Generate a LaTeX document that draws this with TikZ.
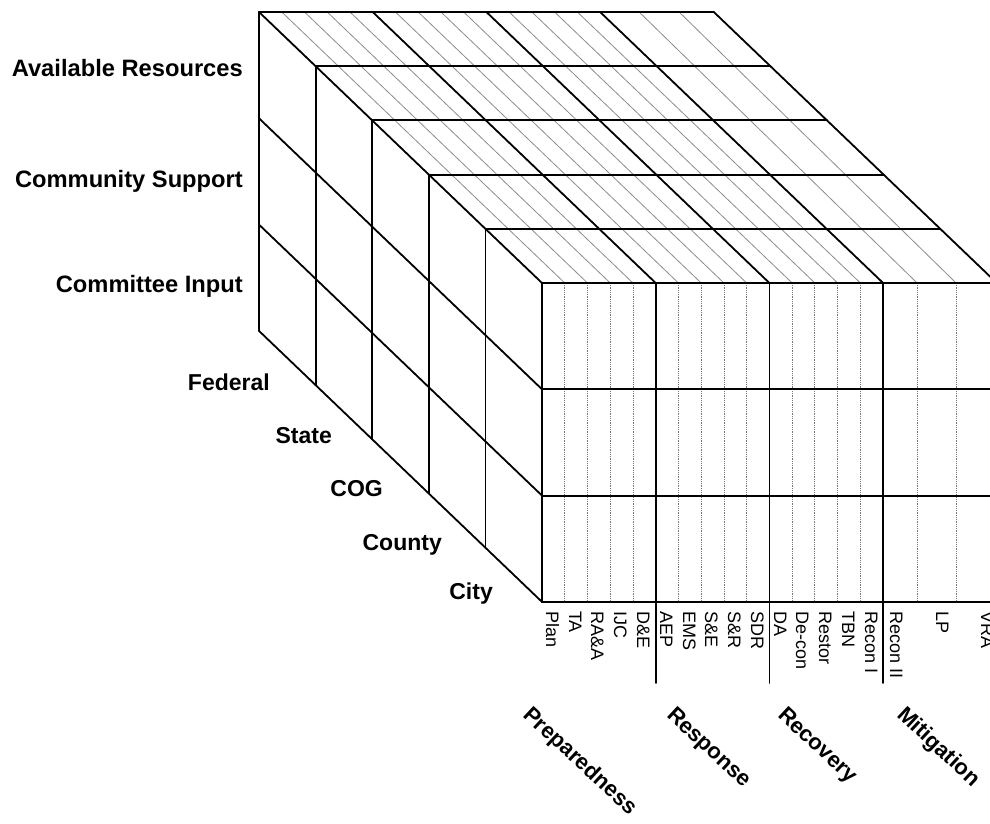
\documentclass[tikz,border=0pt]{standalone}
\usepackage{fontspec}
\setmainfont{Liberation Sans}
\usepackage{tikz}
\usetikzlibrary{positioning}
\definecolor{gridColor}{RGB}{0, 0, 0}
\definecolor{hatchColor}{RGB}{140, 140, 140}
\definecolor{subColor}{RGB}{120, 120, 120}
\newcommand{\sliceDx}{56.6}
\newcommand{\sliceDy}{54.2}
\newcommand{\phaseW}{113.7}
\newcommand{\tierH}{106.3}
\tikzset{
    cube_line/.style={
        line width=1.8pt,
        draw=gridColor,
        line cap=round
    },
    hatch_line/.style={
        line width=0.8pt,
        draw=hatchColor
    },
    sub_line/.style={
        line width=0.8pt,
        draw=subColor,
        densely dotted
    },
    row_label/.style={
        font=\fontsize{23.7}{28}\selectfont\bfseries,
        anchor=base east,
        inner sep=0pt
    },
    level_label/.style={
        row_label,
        font=\fontsize{23}{28}\selectfont\bfseries
    },
    phase_label/.style={
        font=\fontsize{22.1}{26}\selectfont\bfseries,
        rotate=-43,
        anchor=base west,
        inner sep=0pt
    },
    task_label/.style={
        font=\fontsize{18}{22}\selectfont,
        rotate=-90,
        anchor=base west,
        inner sep=0pt
    }
}

\begin{document}
\begin{tikzpicture}[x=1pt, y=-1pt]
    \useasboundingbox (0,0) rectangle (990,824);
    \begin{scope}
        \clip (0,0) rectangle (990,824);
        % top face: thin task lines
        \foreach \g in {0,1,2}
            \foreach \k in {1,...,4}
                \draw[hatch_line] ({259+\g*\phaseW+\k*22.74},12) -- ++(283,271);
        \foreach \ob/\of in {39/34, 79/73}
            \draw[hatch_line] ({259+3*\phaseW+\ob},12) -- ({542+3*\phaseW+\of},283);
        % front face: dotted task lines
        \foreach \g in {0,1,2}
            \foreach \k in {1,...,4}
                \draw[sub_line] ({542+\g*\phaseW+\k*22.74},283) -- ++(0,318.9);
        \foreach \of in {34,73}
            \draw[sub_line] ({542+3*\phaseW+\of},283) -- ++(0,318.9);

        % top face
        \foreach \s in {0,...,5}
            \draw[cube_line] ({259+\s*\sliceDx},{12+\s*\sliceDy}) -- ++(454.8,0);
        \foreach \g in {0,...,4}
            \draw[cube_line] ({259+\g*\phaseW},12) -- ++(283,271);
        % left face
        \foreach \s in {0,...,5}
            \draw[cube_line] ({259+\s*\sliceDx},{12+\s*\sliceDy}) -- ++(0,318.9);
        \foreach \r in {1,2,3}
            \draw[cube_line] (259,{12+\r*\tierH}) -- ++(283,271);
        % front face
        \foreach \r in {1,2,3}
            \draw[cube_line] (542,{283+\r*\tierH}) -- ++(454.8,0);
        \foreach \g in {0,...,4}
            \draw[cube_line] ({542+\g*\phaseW},283) -- ++(0,318.9);
        \foreach \g in {1,2,3}
            \draw[cube_line] ({542+\g*\phaseW},602) -- ++(0,81);
    \end{scope}

    % rows
    \node[row_label] (resources) at (243,77) {Available Resources};
    \node[row_label] (support) at (243,187) {Community Support};
    \node[row_label] (input) at (243,292) {Committee Input};

    % levels
    \node[level_label] (federal) at (270,390) {Federal};
    \node[level_label] (state) at (332,443) {State};
    \node[level_label] (cog) at (383,496) {COG};
    \node[level_label] (county) at (442,550) {County};
    \node[level_label] (city) at (493,599) {City};

    % tasks
    \foreach \tx/\tname [count=\i] in {546/Plan, 569/TA, 591/RA\&A, 614/IJC, 637/D\&E,
            660/AEP, 683/EMS, 705/S\&E, 728/S\&R, 751/SDR,
            774/DA, 796/De-con, 819/Restor, 842/TBN, 865/Recon I,
            890/Recon II, 936/LP, 981/VRA}
        \node[task_label] (task\i) at (\tx,611) {\tname};

    % phases
    \node[phase_label] (preparedness) at (522,716) {Preparedness};
    \node[phase_label] (response) at (666,716) {Response};
    \node[phase_label] (recovery) at (777,716) {Recovery};
    \node[phase_label] (mitigation) at (896,716) {Mitigation};
\end{tikzpicture}
\end{document}
